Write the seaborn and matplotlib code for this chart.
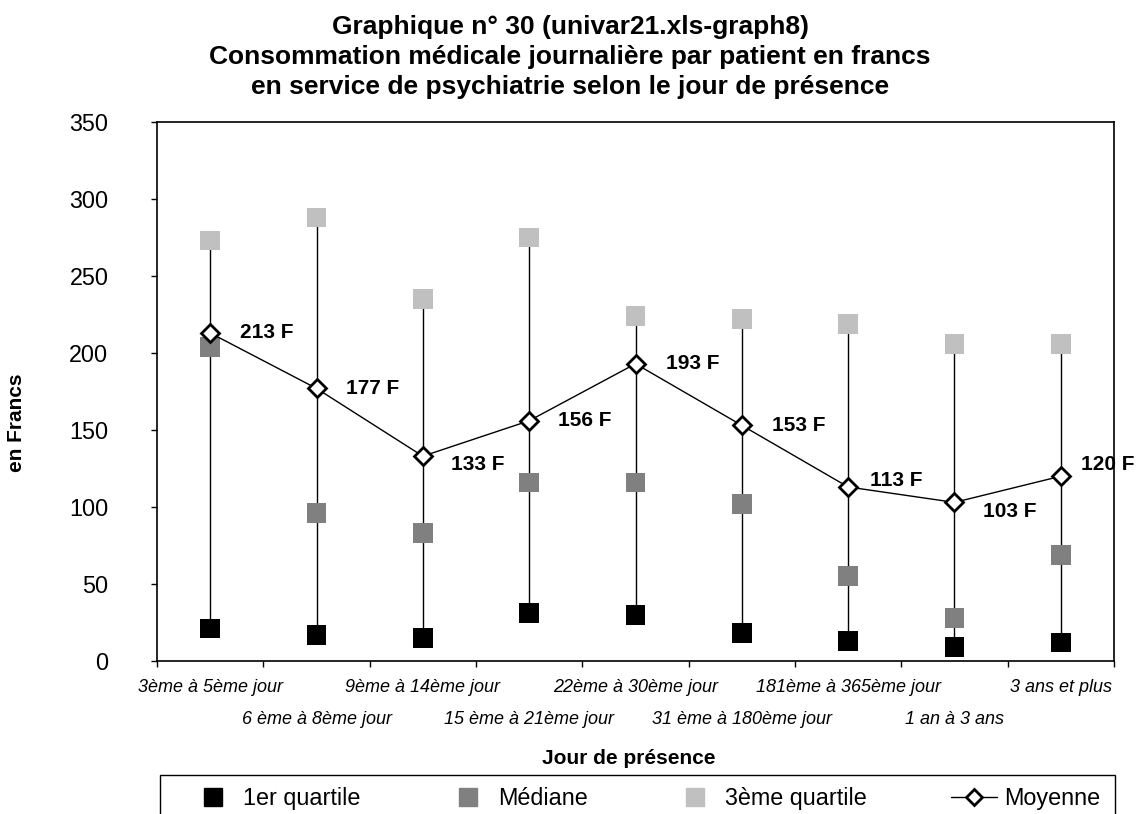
import matplotlib
matplotlib.use("Agg")
import matplotlib.pyplot as plt
import seaborn as sns
import pandas as pd
import numpy as np
from matplotlib.lines import Line2D

categories = ["3ème à 5ème jour", "6 ème à 8ème jour", "9ème à 14ème jour",
              "15 ème à 21ème jour", "22ème à 30ème jour", "31 ème à 180ème jour",
              "181ème à 365ème jour", "1 an à 3 ans", "3 ans et plus"]
q1 = [21, 17, 15, 31, 30, 18, 13, 9, 12]
mediane = [204, 96, 83, 116, 116, 102, 55, 28, 69]
q3 = [273, 288, 235, 275, 224, 222, 219, 206, 206]
moyenne = [213, 177, 133, 156, 193, 153, 113, 103, 120]
mean_labels = ["213 F", "177 F", "133 F", "156 F", "193 F", "153 F", "113 F", "103 F", "120 F"]
# label placement offsets in pixels (dx right, dy down)
label_dx = [30, 30, 28, 29, 30, 30, 22, 29, 20]
label_dy = [0, 0, 8, 0, 0, 0, -6, 9, -12]

sns.set_theme(style="white")
plt.rcParams['font.family'] = ['Liberation Sans', 'DejaVu Sans']
plt.rcParams.update({"text.color": "black", "axes.labelcolor": "black",
                     "xtick.color": "black", "ytick.color": "black"})

W, H = 1137, 814
fig = plt.figure(figsize=(W / 100, H / 100), dpi=100)
ax = fig.add_axes([157/W, 1-661/H, (1114-157)/W, (661-122)/H])
PT = 72 / 100  # points per pixel

x = np.arange(len(categories))
df = pd.DataFrame({"x": x, "cat": categories, "q1": q1, "med": mediane, "q3": q3, "moy": moyenne})

# high-low lines
ax.vlines(df["x"], df["q1"], df["q3"], color="black", lw=1, zorder=1)

sns.scatterplot(data=df, x="x", y="q1", marker="s", s=200, color="black", edgecolor="none", ax=ax, zorder=3)
sns.scatterplot(data=df, x="x", y="med", marker="s", s=200, color="#808080", edgecolor="none", ax=ax, zorder=3)
sns.scatterplot(data=df, x="x", y="q3", marker="s", s=200, color="#c0c0c0", edgecolor="none", ax=ax, zorder=3)
sns.lineplot(data=df, x="x", y="moy", color="black", lw=1, marker="D", markersize=9,
             markerfacecolor="white", markeredgecolor="black", markeredgewidth=2, ax=ax, zorder=4)

for xi, yi, lab, dx, dy in zip(x, moyenne, mean_labels, label_dx, label_dy):
    ax.annotate(lab, (xi, yi), xytext=(dx * PT, -dy * PT), textcoords="offset points",
                ha="left", va="center", fontsize=15, fontweight="bold", color="black",
                annotation_clip=False)

ax.set_xlim(-0.5, len(categories) - 0.5)
ax.set_ylim(0, 350)
ax.set_yticks(np.arange(0, 351, 50))
ax.set_xticks(np.arange(-0.5, len(categories), 1.0))
ax.set_xticklabels([])
ax.tick_params(axis="x", direction="out", length=4.5, width=1, color="black", bottom=True)
ax.tick_params(axis="y", direction="out", length=4.5, width=1, color="black", left=True,
               labelsize=16.8, pad=30.5, labelcolor="black")

for i, cat in enumerate(categories):
    off = -27 if i % 2 == 0 else -59
    ax.annotate(cat, (i, 0), xycoords=("data", "axes fraction"), xytext=(0, off * PT),
                textcoords="offset points", ha="center", va="center", color="black",
                fontsize=13, fontstyle="italic", annotation_clip=False)

for sp in ax.spines.values():
    sp.set_visible(True)
    sp.set_color("black")
    sp.set_linewidth(1.2)

ax.set_xlabel("")
ax.set_ylabel("")
fig.text(17/W, 1-423/H, "en Francs", rotation=90, ha="center", va="center",
         fontsize=15, fontweight="bold", color="black")
fig.text(629/W, 1-758/H, "Jour de présence", ha="center", va="center",
         fontsize=15, fontweight="bold", color="black")

fig.text(570/W, 1-57/H,
         "Graphique n° 30 (univar21.xls-graph8)\nConsommation médicale journalière par patient en francs\nen service de psychiatrie selon le jour de présence",
         ha="center", va="center", fontsize=19, fontweight="bold", linespacing=1.3, color="black")

handles = [
    Line2D([], [], marker="s", ls="none", color="black", markersize=13),
    Line2D([], [], marker="s", ls="none", color="#808080", markersize=13),
    Line2D([], [], marker="s", ls="none", color="#c0c0c0", markersize=13),
    Line2D([], [], marker="D", color="black", lw=1, markersize=8,
           markerfacecolor="white", markeredgecolor="black", markeredgewidth=2),
]
leg = fig.legend(handles, ["1er quartile", "Médiane", "3ème quartile", "Moyenne"],
                 loc="upper left", bbox_to_anchor=(178/W, 1-775/H, (1112-178)/W, 0),
                 mode="expand", ncol=4, frameon=False, fontsize=16.8, borderaxespad=0,
                 fancybox=False, handlelength=2.0, handletextpad=0.3, borderpad=0.5,
                 columnspacing=1.0)
for t in leg.get_texts():
    t.set_color("black")
# legend frame (cut off at bottom like the reference)
fig.add_artist(plt.Rectangle((160/W, -0.02), (1115-160)/W, (1-775/H) + 0.02,
                             transform=fig.transFigure, fill=False, edgecolor="black", lw=1))

fig.savefig("out.png", dpi=100)
